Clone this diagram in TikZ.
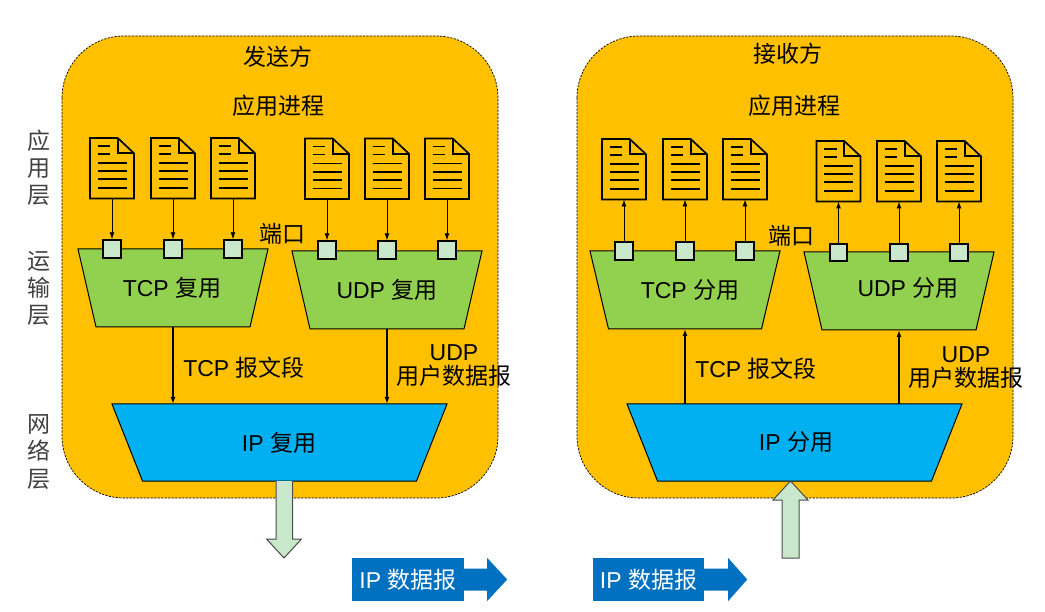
\documentclass[tikz,border=0pt]{standalone}
\usepackage{fontspec}
\setmainfont{Liberation Sans}
\newfontfamily\cjkf{Noto Sans CJK SC}
\newcommand{\zh}[1]{{\cjkf #1}}
\usetikzlibrary{arrows.meta}
\definecolor{panelor}{HTML}{FFC000}
\definecolor{muxgreen}{HTML}{92D050}
\definecolor{ipblue}{HTML}{00B0F0}
\definecolor{palegreen}{HTML}{C9E7CB}
\definecolor{tagblue}{HTML}{0070C0}
\definecolor{sidegrey}{HTML}{404040}
\tikzset{
  panel/.style={draw=black,fill=panelor,line width=0.7pt,dash pattern=on 2.2pt off 1.3pt,rounded corners=62pt},
  mux/.style={draw=black,line width=1pt,fill=muxgreen},
  ipmux/.style={draw=black,line width=1pt,fill=ipblue},
  portbox/.style={draw=black,fill=palegreen,line width=1.9pt,minimum size=17.5pt,inner sep=0pt},
  docline/.style={line width=1.7pt},
  holder/.style={inner sep=0pt,outer sep=0pt},
  lbl/.style={font=\fontsize{23}{26}\selectfont,text=black,inner sep=0pt,anchor=base,align=center},
  sidelbl/.style={lbl,text=sidegrey},
  thin arrow/.style={-{Latex[length=7pt,width=5pt]},line width=0.9pt},
  main arrow/.style={-{Latex[length=7pt,width=5pt]},line width=1.5pt},
  fat arrow/.style={draw=black!70,line width=1pt,fill=palegreen},
  tag/.style={fill=tagblue,text=white,minimum width=112pt,minimum height=43pt,inner sep=0pt,font=\fontsize{23}{26}\selectfont},
}
\newcommand{\docicon}[3]{%
  \draw[docline,line join=miter] (#2-22,#3) -- (#2+5.7,#3) -- (#2+22,#3+15.3) -- (#2+22,#3+60.5) -- (#2-22,#3+60.5) -- cycle;
  \draw[docline] (#2+5.7,#3) -- (#2+5.7,#3+15.3) -- (#2+22,#3+15.3);
  \draw[docline] (#2-14.3,#3+8) -- (#2-2,#3+8) (#2-14.3,#3+16) -- (#2-2,#3+16);
  \foreach \dy in {25,33.3,41.3,50}{\draw[docline] (#2-14.3,#3+\dy) -- (#2+14.7,#3+\dy);}
  \node[holder,minimum width=44pt,minimum height=60.5pt] (#1) at (#2,#3+30.25) {};
}
% name, centre x, top y, top width, bottom width, height, style
\newcommand{\trapnode}[7]{%
  \draw[#7] (#2-#4/2,#3) -- (#2+#4/2,#3) -- (#2+#5/2,#3+#6) -- (#2-#5/2,#3+#6) -- cycle;
  \node[holder,minimum width=#4 pt,minimum height=#6 pt] (#1) at (#2,#3+#6/2) {};
}
\begin{document}
\begin{tikzpicture}[x=1pt,y=-1pt]
\useasboundingbox (0,0) rectangle (1045,612);
% panels
\draw[panel] (62,36) rectangle (498,498);
\draw[panel] (577,36) rectangle (1013,498);
% multiplexers
\trapnode{tcpL}{173}{249}{190}{154}{78}{mux}
\trapnode{udpL}{387}{251}{190}{154}{78}{mux}
\trapnode{tcpR}{685}{251}{190}{153}{78}{mux}
\trapnode{udpR}{899}{252}{190}{154}{78}{mux}
\trapnode{ipL}{279.5}{404}{335}{274}{77}{ipmux}
\trapnode{ipR}{794.5}{404}{335}{274}{77}{ipmux}
% ports
\foreach \n/\x/\y in {pa/112/249,pb/173/249,pc/233/249,pd/327/250,pe/387/250,pf/447/250,
                      pg/624/251,ph/685/251,pi/745/251,pj/838.5/252.5,pk/899/252.5,pl/959/252.5}
  \node[portbox] (\n) at (\x,\y) {};
% documents
\docicon{da}{112}{138}
\docicon{db}{173}{138}
\docicon{dc}{233}{138}
\docicon{dd}{327}{138.5}
\docicon{de}{387}{138.5}
\docicon{df}{447}{138.5}
\docicon{dg}{624}{139}
\docicon{dh}{685}{139}
\docicon{di}{745}{139}
\docicon{dj}{838.5}{141}
\docicon{dk}{899}{141}
\docicon{dl}{959}{141}
% document-port connectors
\foreach \a/\b in {da/pa,db/pb,dc/pc,dd/pd,de/pe,df/pf}
  \draw[thin arrow] (\a.south) -- (\b.north);
\foreach \a/\b in {pg/dg,ph/dh,pi/di,pj/dj,pk/dk,pl/dl}
  \draw[thin arrow] (\a.north) -- (\b.south);
% main connectors
\draw[main arrow,xshift=-0.7pt] (tcpL.south) -- (tcpL.south |- ipL.north);
\draw[main arrow] (udpL.south) -- (udpL.south |- ipL.north);
\draw[main arrow,xshift=-0.7pt] (tcpR.south |- ipR.north) -- (tcpR.south);
\draw[main arrow] (udpR.south |- ipR.north) -- (udpR.south);
% fat arrows
\coordinate (fatL) at (ipL.south);
\draw[fat arrow] (fatL)++(-3.5,0) -- ++(0,58) -- ++(-9.5,0) -- ++(17.5,19) -- ++(17.5,-19) -- ++(-9,0) -- ++(0,-58);
\coordinate (fatR) at (790.5,481);
\draw[fat arrow] (fatR) -- ++(17.5,19) -- ++(-9,0) -- ++(0,58) -- ++(-17,0) -- ++(0,-58) -- ++(-9,0) -- cycle;
% texts
\node[lbl] (tSend) at (278,66) {\zh{发送方}};
\node[lbl] (tRecv) at (788,63) {\zh{接收方}};
\node[lbl] (tAppL) at (278,115) {\zh{应用进程}};
\node[lbl] (tAppR) at (794,115) {\zh{应用进程}};
\node[lbl] (tPortL) at (282,243) {\zh{端口}};
\node[lbl] (tPortR) at (791,245) {\zh{端口}};
\node[sidelbl] (s1) at (39,150) {\zh{应}};
\node[sidelbl] (s2) at (39,177) {\zh{用}};
\node[sidelbl] (s3) at (39,204) {\zh{层}};
\node[sidelbl] (s4) at (39,270) {\zh{运}};
\node[sidelbl] (s5) at (39,297) {\zh{输}};
\node[sidelbl] (s6) at (39,324) {\zh{层}};
\node[sidelbl] (s7) at (39,433) {\zh{网}};
\node[sidelbl] (s8) at (39,460) {\zh{络}};
\node[sidelbl] (s9) at (39,487) {\zh{层}};
\node[lbl] (mTL) at (172,297) {TCP \zh{复用}};
\node[lbl] (mUL) at (387,299) {UDP \zh{复用}};
\node[lbl] (mTR) at (690,299) {TCP \zh{分用}};
\node[lbl] (mUR) at (908,297) {UDP \zh{分用}};
\node[lbl] (mIL) at (279,451) {IP \zh{复用}};
\node[lbl] (mIR) at (796,450) {IP \zh{分用}};
\node[lbl] (sgL) at (244,377) {TCP \zh{报文段}};
\node[lbl] (sgR) at (756,378) {TCP \zh{报文段}};
\node[lbl] (u1L) at (454,361) {UDP};
\node[lbl] (u2L) at (454,385) {\zh{用户数据报}};
\node[lbl] (u1R) at (966,363) {UDP};
\node[lbl] (u2R) at (966,387) {\zh{用户数据报}};
% IP datagram tags
\node[tag] (tagL) at (408,579.5) {IP \zh{数据报}};
\node[tag,minimum width=111pt] (tagR) at (648.5,579.5) {IP \zh{数据报}};
\fill[tagblue] (tagL.east) ++(0,-11) -- ++(23,0) -- ++(0,-10.5) -- ++(20,21.5) -- ++(-20,21.5) -- ++(0,-10.5) -- ++(-23,0) -- cycle;
\fill[tagblue] (tagR.east) ++(0,-11) -- ++(24,0) -- ++(0,-10.5) -- ++(19,21.5) -- ++(-19,21.5) -- ++(0,-10.5) -- ++(-24,0) -- cycle;
\end{tikzpicture}
\end{document}
